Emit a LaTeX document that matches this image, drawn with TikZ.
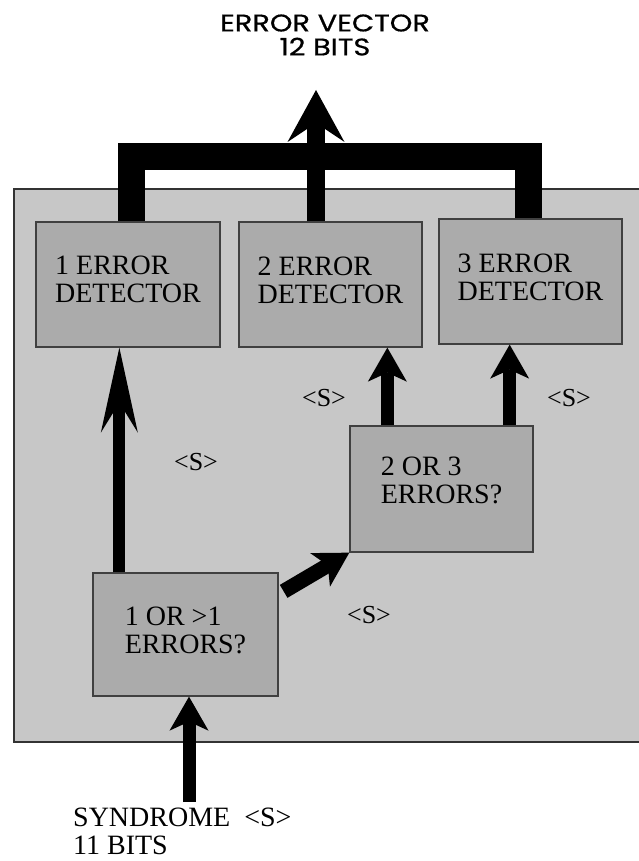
\documentclass[tikz,border=0pt]{standalone}
\usepackage{fontspec}
\setmainfont{Liberation Serif}
\newfontfamily\geosans[FakeBold=0.6]{Poppins}
\usetikzlibrary{arrows.meta,calc}

\definecolor{panelgray}{gray}{0.78}
\definecolor{boxgray}{gray}{0.67}

\begin{document}
\begin{tikzpicture}[x=1pt,y=-1pt,
  panel/.style={fill=panelgray},
  panelrule/.style={draw=black!80,line width=1.6pt},
  unitbox/.style={draw=black!75,line width=1.3pt,fill=boxgray,inner sep=0pt,
    minimum width=184pt,minimum height=125pt,align=left,
    font=\fontsize{28}{28}\selectfont},
  sig/.style={inner sep=0pt,font=\fontsize{26}{26}\selectfont},
  bus/.style={draw=black,line width=27pt,line join=miter,line cap=butt},
  bigarrow/.style={draw=black,line width=18pt,
    -{Stealth[length=52pt,width=57pt,inset=19pt,line width=0pt]}},
  longarrow/.style={draw=black,line width=12pt,
    -{Stealth[length=85pt,width=37pt,inset=30pt,line width=0pt]}},
  flowarrow/.style={draw=black,line width=13pt,
    -{Stealth[length=34pt,width=39pt,inset=9pt,line width=0pt]}},
]
\useasboundingbox (0,0) rectangle (639,861);

% shaded panel (its right side runs off the page)
\fill[panel] (14,189) rectangle (639,742);
\draw[panelrule] (639,189) -- (14,189) -- (14,742) -- (639,742);

% detector units
\node[unitbox,text depth=10pt] (det1) at (128,284.5) {1 ERROR\\DETECTOR};
\node[unitbox,minimum width=183pt,text depth=8pt] (det2) at (330.5,284.5) {2 ERROR\\DETECTOR};
\node[unitbox,minimum width=183pt,text depth=8pt] (det3) at (530.5,281.5) {3 ERROR\\DETECTOR};

% decision units
\node[unitbox,minimum width=183pt,minimum height=126pt,text depth=17pt] (q2) at (441.5,489) {2 OR 3\\ERRORS?};
\node[unitbox,minimum width=185pt,minimum height=123pt,text depth=9pt] (q1) at (185.5,634.5) {1 OR >1\\ERRORS?};

% syndrome markers
\node[sig] (s1) at (324,398) {<S>};
\node[sig] (s2) at (569,398) {<S>};
\node[sig] (s3) at (196,462) {<S>};
\node[sig] (s4) at (369,615) {<S>};

% output bus joining the three detectors
\draw[bus] ([xshift=3pt]det1.north) -- ++(0,-65) -| ([xshift=-2.5pt]det3.north);

% output and input labels
\coordinate (evec) at (316,90);
\node[font=\geosans\fontsize{24}{24}\selectfont,align=center,inner sep=0pt] (outlbl) at (325,35)
  {\scalebox{1.2}[1]{ERROR VECTOR}\\\scalebox{1.2}[1]{12 BITS}};
\node[font=\fontsize{28}{28}\selectfont,align=left,inner sep=0pt,anchor=north west] (syn) at (73,808) {SYNDROME~~<S>\\11 BITS};

% connectors
\draw[bigarrow] ([xshift=-14.5pt]det2.north) -- (evec);
\draw[longarrow] ([xshift=27pt]q1.north west) -- ([xshift=27pt]q1.north west |- det1.south);
\draw[flowarrow,line width=15pt] ([xshift=5pt,yshift=-19pt]q1.north east) -- (q2.south west);
\draw[flowarrow] ([xshift=38pt]q2.north west) -- ([xshift=38pt]q2.north west |- det2.south);
\draw[flowarrow] ([xshift=-24pt]q2.north east) -- ([xshift=-24pt]q2.north east |- det3.south);
\draw[flowarrow] ([xshift=3.5pt,yshift=6pt]q1.south |- syn.north) -- ([xshift=3.5pt]q1.south);
\end{tikzpicture}
\end{document}
